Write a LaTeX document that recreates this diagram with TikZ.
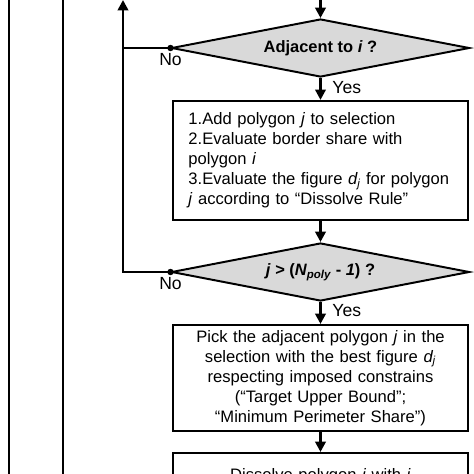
\documentclass[tikz,border=0pt]{standalone}
\usepackage{fontspec}
\setmainfont{Liberation Sans}
\usetikzlibrary{arrows.meta,shapes.geometric,calc}

\tikzset{
  flow/.style={line width=2pt,-{Triangle[length=2.6mm,width=2.6mm]}},
  wire/.style={line width=2pt},
  decision/.style={diamond,draw=black,line width=1.4pt,fill=black!15,
    minimum width=7.45cm,minimum height=1.45cm,inner sep=0pt,aspect=5,
    font=\fontsize{11.7}{14}\selectfont\bfseries},
  process/.style={rectangle,draw=black,line width=1.4pt,fill=white,
    minimum width=7.375cm,text width=6.6cm,inner sep=0pt},
  tag/.style={font=\fontsize{12.5}{14}\selectfont}
}

\begin{document}
\begin{tikzpicture}[font=\fontsize{11.8}{14.2}\selectfont]
	   \clip (0,0) rectangle (11.85,-11.85);
	   % outer loops
	   \coordinate (outerA) at (0.225,0.5);
	   \coordinate (outerB) at (1.575,0.5);
	   \coordinate (loopTop) at (3.075,0);
	   \coordinate (entry) at (8.0125,0);
	   \draw [wire] (outerA) -- ++(0,-13);
	   \draw [wire] (outerB) -- ++(0,-13);

	   \node (adj) at (8.0125,-1.2) [decision] {Adjacent to \textit{i} ?};
	   \node (add) at (8.0125,-4.01) [process,minimum height=2.975cm,align=left]
	     {1.Add polygon \textit{j} to selection\\
	      2.Evaluate border share with\\
	      polygon \textit{i}\\
	      3.Evaluate the figure \textit{d\textsubscript{j}} for polygon\\
	      \textit{j} according to “Dissolve Rule”};
	   \node (last) at (8.0125,-6.8) [decision]
	     {\textit{j} > (\textit{N\textsubscript{poly}} - \textit{1}) ?};
	   \node (pick) at (8.0125,-9.45) [process,minimum height=2.65cm,align=center]
	     {Pick the adjacent polygon \textit{j} in the\\
	      selection with the best figure \textit{d\textsubscript{j}}\\
	      respecting imposed constrains\\
	      (“Target Upper Bound”;\\
	      “Minimum Perimeter Share”)};
	   \node (merge) at (8.0125,-12.1) [process,minimum height=1.55cm,align=center]
	     {Dissolve polygon \textit{j} with \textit{i}\\ \phantom{x}};

	   % main flow
	   \draw [flow] (entry) -- (adj.north);
	   \draw [flow] (adj.south) -- (add.north);
	   \draw [flow] (add.south) -- (last.north);
	   \draw [flow] (last.south) -- (pick.north);
	   \draw [flow] (pick.south) -- (merge.north);

	   % back loops
	   \draw [flow] (last.west) -| (loopTop);
	   \draw [wire] (adj.west) -- (adj.west -| loopTop);
	   \fill (adj.west) circle (0.08);
	   \fill (last.west) circle (0.08);

	   \node [tag,below=0pt] at (adj.west) {No};
	   \node [tag,below=0pt] at (last.west) {No};
	   \node [tag,right=5pt] at ($(adj.south)!0.42!(add.north)$) {Yes};
	   \node [tag,right=5pt] at ($(last.south)!0.38!(pick.north)$) {Yes};
\end{tikzpicture}
\end{document}
